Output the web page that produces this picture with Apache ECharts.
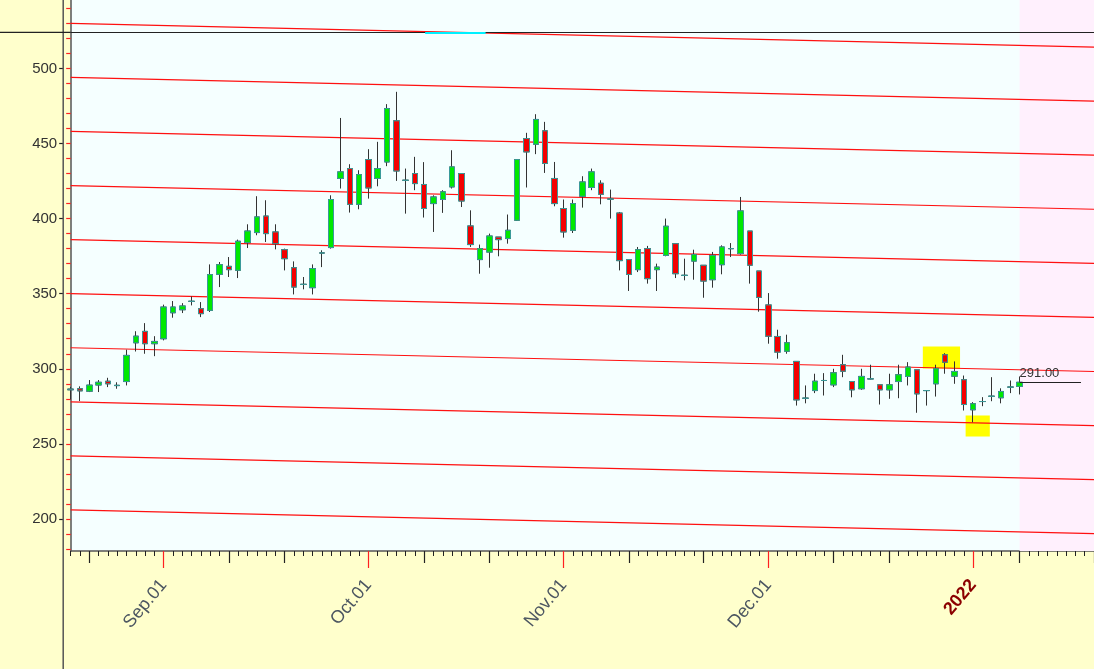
<!DOCTYPE html>
<html>
<head>
<meta charset="utf-8">
<script src="https://cdn.jsdelivr.net/npm/echarts@6/dist/echarts.min.js"></script>
<style>
html,body{margin:0;padding:0;background:#ffffcc;}
#chart{width:1094px;height:669px;}
</style>
</head>
<body>
<div id="chart"></div>
<script>
// ---------- data ----------
const dates = [
'2021-08-18','2021-08-19','2021-08-20','2021-08-23','2021-08-24','2021-08-25','2021-08-26','2021-08-27','2021-08-30','2021-08-31',
'2021-09-01','2021-09-02','2021-09-03','2021-09-06','2021-09-07','2021-09-08','2021-09-09','2021-09-10','2021-09-13','2021-09-14','2021-09-15','2021-09-16','2021-09-17','2021-09-20','2021-09-21','2021-09-22','2021-09-23','2021-09-24','2021-09-27','2021-09-28','2021-09-29','2021-09-30',
'2021-10-01','2021-10-04','2021-10-05','2021-10-06','2021-10-07','2021-10-08','2021-10-11','2021-10-12','2021-10-13','2021-10-14','2021-10-15','2021-10-18','2021-10-19','2021-10-20','2021-10-21','2021-10-22','2021-10-25','2021-10-26','2021-10-27','2021-10-28','2021-10-29',
'2021-11-01','2021-11-02','2021-11-03','2021-11-04','2021-11-05','2021-11-08','2021-11-09','2021-11-10','2021-11-11','2021-11-12','2021-11-15','2021-11-16','2021-11-17','2021-11-18','2021-11-19','2021-11-22','2021-11-23','2021-11-24','2021-11-25','2021-11-26','2021-11-29','2021-11-30',
'2021-12-01','2021-12-02','2021-12-03','2021-12-06','2021-12-07','2021-12-08','2021-12-09','2021-12-10','2021-12-13','2021-12-14','2021-12-15','2021-12-16','2021-12-17','2021-12-20','2021-12-21','2021-12-22','2021-12-23','2021-12-27','2021-12-28','2021-12-29','2021-12-30','2021-12-31',
'2022-01-03','2022-01-04','2022-01-05','2022-01-06','2022-01-07','2022-01-10','2022-01-11','2022-01-12','2022-01-13','2022-01-14','2022-01-17','2022-01-18','2022-01-19','2022-01-20'
];
const openVals = [
286.5,286.7,285.1,289.2,291.7,288.8,291.5,317.3,324.9,316.7,
320.0,337.3,339.3,344.9,340.0,338.9,362.9,368.2,365.6,384.0,
390.7,401.7,391.1,379.3,367.3,356.2,354.0,377.1,380.7,426.7,
433.3,409.5,439.3,426.7,437.7,465.1,425.5,430.0,422.7,410.0,
412.7,421.1,430.0,395.1,372.7,377.7,387.7,386.7,398.9,453.3,
449.5,458.4,426.7,406.7,392.2,414.9,420.7,423.5,413.0,403.7,
372.7,366.0,380.0,366.0,375.5,383.3,362.2,371.7,368.9,359.3,
369.3,380.0,376.7,391.7,365.1,342.5,321.5,311.7,304.9,280.4,
285.5,292.2,289.3,302.7,291.5,286.7,293.3,289.3,286.0,291.5,
294.9,299.3,285.5,290.0,309.3,295.1,292.7,272.7,278.2,281.7,
280.7,287.8,288.3
];
const closeVals = [
286.0,285.3,289.1,291.0,290.0,289.0,308.9,321.7,316.7,318.2,
341.1,341.1,341.8,344.9,336.7,362.7,369.3,366.0,384.9,391.7,
401.1,390.0,383.3,373.3,354.4,356.2,366.7,377.1,412.7,431.1,
409.5,429.3,420.4,433.3,473.3,431.7,425.5,423.3,406.7,414.4,
417.8,434.4,411.7,382.7,380.0,388.4,386.0,392.2,439.3,444.4,
466.0,436.7,410.0,391.1,410.0,424.4,431.1,416.2,413.0,372.0,
362.8,379.3,360.0,367.7,394.9,363.3,362.2,376.0,358.4,375.5,
381.1,380.0,405.1,369.0,347.5,321.7,311.1,317.3,279.3,280.4,
291.7,292.2,297.3,298.4,286.0,294.9,293.3,286.0,289.3,296.0,
301.1,283.3,285.5,300.0,304.4,298.2,276.2,276.7,278.2,281.7,
284.9,287.8,291.0
];
const lowVals = [
279.5,278.5,284.5,284.5,287.8,286.7,288.9,311.5,310.0,308.4,
318.9,334.0,337.1,342.2,334.4,337.8,354.4,361.1,360.4,380.4,
388.9,384.4,379.5,365.5,349.5,352.9,349.5,367.7,380.0,420.0,
404.0,406.2,413.3,421.5,434.9,425.1,403.3,418.9,400.7,391.1,
403.8,420.0,407.7,381.1,363.3,367.3,374.9,383.3,398.4,420.7,
442.9,430.4,408.2,387.3,390.4,407.3,418.9,409.5,400.0,365.5,
351.8,364.4,356.7,351.8,374.9,360.4,358.9,359.3,347.3,354.0,
362.9,374.4,376.0,356.7,338.0,316.7,306.7,310.0,275.5,277.0,
283.8,282.2,287.8,294.4,281.0,286.0,293.0,276.2,280.0,280.4,
288.9,270.7,275.5,281.5,296.7,290.0,272.2,264.4,275.1,278.4,
277.0,283.8,282.9
];
const highVals = [
288.0,288.3,292.5,292.5,294.0,291.0,312.7,325.0,330.4,321.7,
342.7,345.1,343.7,348.2,344.4,369.5,371.1,374.4,386.0,396.2,
414.9,412.2,396.2,380.0,371.5,361.1,369.5,378.9,415.5,467.0,
436.2,432.2,446.2,451.1,476.2,484.4,433.3,441.1,437.6,415.5,
418.9,445.5,430.0,405.5,382.7,390.0,387.7,402.7,439.3,457.1,
469.5,464.4,437.7,412.7,412.7,428.2,433.3,425.5,419.3,404.4,
372.7,381.1,381.8,370.0,400.0,383.3,373.3,379.3,368.9,377.8,
382.2,383.7,414.4,391.7,365.1,350.4,326.0,322.7,304.9,288.9,
296.7,297.1,300.0,309.3,291.5,300.0,302.7,289.3,296.7,302.7,
304.4,299.3,285.5,302.7,310.4,304.9,295.5,277.8,281.1,294.4,
287.0,292.2,294.9
];
// parallel channel lines: value at first bar, value at last slot
const channelStart = [530, 494, 458, 422, 386, 350, 314, 278, 242, 206];
const channelEnd   = [514.2, 478.2, 442.2, 406.2, 370.2, 334.2, 298.2, 262.2, 226.2, 190.2];
const yMajorTicks = [200, 250, 300, 350, 400, 450, 500, 550];
const yMinorTicks = [180,190,200,210,220,230,240,250,260,270,280,290,300,310,320,330,340,350,360,370,380,390,400,410,420,430,440,450,460,470,480,490,500,510,520,530,540];
const monthNames = ['Jan','Feb','Mar','Apr','May','Jun','Jul','Aug','Sep','Oct','Nov','Dec'];
const crossLevel = 524;
const cyanSpan = [38.1, 44.6];           // bar index range
const highBox = [91.6, 314.9, 95.6, 300.2]; // x0,y0,x1,y1 (index, value)
const lowBox  = [96.2, 268.9, 98.8, 254.9];
const futureStart = 102;
const lastLineEnd = 108.6;

// ---------- helpers ----------
const N = dates.length;
const lastIdx = N - 1;
const lastClose = closeVals[closeVals.length - 1];
function isMonthStart(i){ return i > 0 && dates[i].slice(5,7) !== dates[i-1].slice(5,7); }
function isDecade(i){
  if (i === 0 || isMonthStart(i)) return false;
  const d = +dates[i].slice(8), p = +dates[i-1].slice(8);
  return (d >= 10 && p < 10) || (d >= 20 && p < 20);
}
const fullData = openVals.map((o,i)=>[o, closeVals[i], lowVals[i], highVals[i]]);
const bodyData = openVals.map((o,i)=>[o, closeVals[i], Math.min(o, closeVals[i]), Math.max(o, closeVals[i])]);

const FONT = 'Arial, "Liberation Sans", sans-serif';
const chart = echarts.init(document.getElementById('chart'), null, {renderer:'canvas'});

const catAxisBase = {
  type:'category', data:dates, boundaryGap:false, position:'bottom', gridIndex:0
};

const series = [];
series.push({
  type:'line', xAxisIndex:3, yAxisIndex:0, data:[], z:1, silent:true,
  markArea:{
    silent:true,
    data:[
      [{xAxis:futureStart, itemStyle:{color:'#fff0fd'}}, {xAxis:lastIdx}],
      [{coord:[highBox[0], highBox[1]], itemStyle:{color:'#ffff00'}}, {coord:[highBox[2], highBox[3]]}],
      [{coord:[lowBox[0], lowBox[1]], itemStyle:{color:'#ffff00'}}, {coord:[lowBox[2], lowBox[3]]}]
    ]
  }
});
channelStart.forEach((v,k)=>{
  series.push({
    type:'line', xAxisIndex:3, yAxisIndex:0, z:2, silent:true, symbol:'none',
    data:[[0, v],[lastIdx, channelEnd[k]]],
    lineStyle:{color:'#ff1010', width:1.2}
  });
});
series.push({
  type:'candlestick', xAxisIndex:0, yAxisIndex:0, z:3, barWidth:6, silent:true,
  data: fullData,
  itemStyle:{color:'#333', color0:'#333', borderColor:'#333', borderColor0:'#333', borderColorDoji:'#333', borderWidth:1}
});
series.push({
  type:'candlestick', xAxisIndex:0, yAxisIndex:0, z:4, barWidth:6, silent:true,
  data: bodyData,
  itemStyle:{color:'#00e800', color0:'#f20000', borderColor:'#3a9a9a', borderColor0:'#3a9a9a', borderColorDoji:'#3a9a9a', borderWidth:1}
});
series.push({
  type:'line', xAxisIndex:3, yAxisIndex:0, data:[], z:5, silent:true,
  markLine:{
    silent:true, symbol:['none','none'], animation:false,
    data:[
      [{coord:[0, crossLevel], lineStyle:{color:'#222', width:1.2, type:'solid'}, label:{show:false}}, {coord:[lastIdx, crossLevel]}],
      [{coord:[cyanSpan[0], crossLevel], lineStyle:{color:'#00f0ff', width:2, type:'solid'}, label:{show:false}}, {coord:[cyanSpan[1], crossLevel]}],
      [{coord:[futureStart, lastClose], lineStyle:{color:'#222', width:1, type:'solid'},
        label:{show:true, position:'insideStartTop', formatter: lastClose.toFixed(2), color:'#333', fontSize:13, fontFamily:FONT, distance:[0,2]}},
       {coord:[lastLineEnd, lastClose]}]
    ]
  }
});

chart.setOption({
  animation:false,
  backgroundColor:'#ffffcc',
  grid:{left:70.7, right:0, top:-6.7, bottom:118, show:true, backgroundColor:'#f5ffff', borderWidth:0,
        containLabel:false, outerBoundsMode:'none'},
  xAxis:[
    Object.assign({}, catAxisBase, {
      axisLine:{show:true, lineStyle:{color:'#555', width:1.5}},
      axisTick:{show:true, interval:0, length:5, lineStyle:{color:'#222', width:1}},
      axisLabel:{
        show:true, interval:(i)=>isMonthStart(i), rotate:50, margin:31,
        fontSize:18, fontFamily:FONT, color:'#4c5661',
        formatter:(v)=>{ const m = +v.slice(5,7); return m === 1 ? '{yr|' + v.slice(0,4) + '}' : monthNames[m-1] + '.' + v.slice(8); },
        rich:{yr:{color:'#8b0000', fontWeight:'bold', fontSize:18, fontFamily:FONT}}
      },
      splitLine:{show:false}
    }),
    Object.assign({}, catAxisBase, {
      axisLine:{show:false}, axisLabel:{show:false}, splitLine:{show:false},
      axisTick:{show:true, interval:(i)=>isDecade(i), length:12, lineStyle:{color:'#222', width:1.2}}
    }),
    Object.assign({}, catAxisBase, {
      axisLine:{show:false}, axisLabel:{show:false}, splitLine:{show:false},
      axisTick:{show:true, interval:(i)=>isMonthStart(i), length:17, lineStyle:{color:'#ff2020', width:1.2}}
    }),
    {type:'value', gridIndex:0, min:0, max:lastIdx, show:false, position:'bottom'}
  ],
  yAxis:[
    {type:'value', position:'left', min:178.67, max:550, scale:true,
     axisLine:{show:true, lineStyle:{color:'#555', width:1.5}},
     axisTick:{show:true, length:4.5, customValues:yMinorTicks, lineStyle:{color:'#ff2020', width:1.2}},
     axisLabel:{show:false}, splitLine:{show:false}},
    {type:'value', position:'left', offset:7.5, min:178.67, max:550, scale:true,
     axisLine:{show:false},
     axisTick:{show:true, length:4, customValues:yMajorTicks, lineStyle:{color:'#222', width:1.2}},
     axisLabel:{show:true, customValues:yMajorTicks, margin:6, fontSize:15, fontFamily:FONT, color:'#333'},
     splitLine:{show:false}}
  ],
  series: series
});

const yCross = chart.convertToPixel({yAxisIndex:0}, crossLevel);
const gridLeft = chart.convertToPixel({xAxisIndex:3}, 0);
chart.setOption({
  graphic:[
    {type:'line', silent:true, z:10, shape:{x1:gridLeft-7.5, y1:0, x2:gridLeft-7.5, y2:669}, style:{stroke:'#555', lineWidth:1.5}},
    {type:'line', silent:true, z:10, shape:{x1:0, y1:yCross, x2:gridLeft, y2:yCross}, style:{stroke:'#222', lineWidth:1.2}}
  ]
});
</script>
</body>
</html>
